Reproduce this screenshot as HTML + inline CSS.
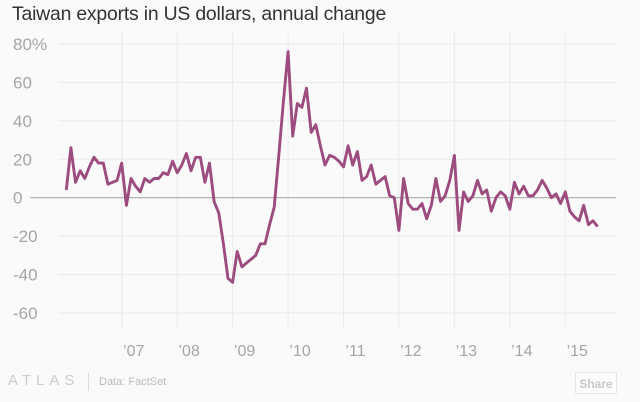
<!DOCTYPE html>
<html><head><meta charset="utf-8"><style>
html,body{margin:0;padding:0;background:#fbfafb;}
body{width:640px;height:402px;position:relative;overflow:hidden;font-family:"Liberation Sans",sans-serif;}
#title{position:absolute;left:12px;top:3px;font-size:19.4px;color:#333;letter-spacing:-0.2px;white-space:nowrap;}
#chart{position:absolute;left:0;top:0;}
#footer-logo{position:absolute;left:8px;top:372px;font-size:15px;color:#ccc;letter-spacing:5px;}
#footer-sep{position:absolute;left:88px;top:373px;width:1px;height:18px;background:#ddd;}
#source{position:absolute;left:99px;top:376px;font-size:11px;color:#bbb;}
#share{position:absolute;left:575px;top:372px;width:42px;height:22px;border:1px solid #e4e4e4;border-radius:2px;font-size:12px;color:#c8c8c8;text-align:center;line-height:22px;box-sizing:border-box;font-weight:bold;background:#fcfcfc;}
</style></head><body>
<div id="title">Taiwan exports in US dollars, annual change</div>
<svg id="chart" width="640" height="402"></svg>
<div id="footer-logo">ATLAS</div>
<div id="footer-sep"></div>
<div id="source">Data: FactSet</div>
<div id="share">Share</div>
<script>
const values2006 = [4,26,8,14,10,16,21,18,18,7,8,9];
const values2007 = [18,-4,10,6,3,10,8,10,10,13,12,19];
const values2008 = [13,17,23,14,21,21,8,18,-2,-8,-24,-42];
const values2009 = [-44,-28,-36,-34,-32,-30,-24,-24,-14,-5,22,50];
const values2010 = [76,32,49,47,57,34,38,27,17,22,21,19];
const values2011 = [16,27,17,24,9,11,17,7,9,11,1,0];
const values2012 = [-17,10,-3,-6,-6,-3,-11,-4,10,-2,1,9];
const values2013 = [22,-17,3,-2,1,9,2,4,-7,0,3,1];
const values2014 = [-6,8,2,6,1,1,4,9,5,0,2,-3];
const values2015 = [3,-7,-10,-12,-4,-14,-12,-15];
const yTicks = [80,60,40,20,0,-20,-40,-60];
const yTickLabels = ["80%","60","40","20","0","-20","-40","-60"];
const xTickLabels = ["’07","’08","’09","’10","’11","’12","’13","’14","’15"];
const xTickMonths = [12,24,36,48,60,72,84,96,108];

const series = [].concat(values2006,values2007,values2008,values2009,values2010,values2011,values2012,values2013,values2014,values2015);
const NS="http://www.w3.org/2000/svg";
const svg=document.getElementById('chart');
const x = i => 66.3 + i*4.62;
const y = v => 197.7 - v*1.922;
function mk(tag,attrs){const e=document.createElementNS(NS,tag);for(const k in attrs)e.setAttribute(k,attrs[k]);svg.appendChild(e);return e;}

yTicks.forEach((t,i)=>{
  if(t!==0){
    const g=mk('line',{x1:58,x2:616,y1:y(t),y2:y(t),stroke:'#ebe9eb','stroke-width':1});
    
    
  }
  const tx=mk('text',{x:13,y:y(t)+6,'font-size':17,fill:'#a5a5a5','font-family':'Liberation Sans, sans-serif'});
  tx.textContent=yTickLabels[i];
  
  
});
xTickMonths.forEach((m,i)=>{
  const g=mk('line',{x1:x(m),x2:x(m),y1:33,y2:328,stroke:'#ebe9eb','stroke-width':1});
  
  
  const tx=mk('text',{x:x(m)+12,y:356,'font-size':16,fill:'#a5a5a5','text-anchor':'middle','font-family':'Liberation Sans, sans-serif'});
  tx.textContent=xTickLabels[i];
  
  
});
const zl=mk('line',{x1:30,x2:616,y1:y(0),y2:y(0),stroke:'#aaa','stroke-width':1.2});


const d=series.map((v,i)=>(i?'L':'M')+x(i).toFixed(1)+','+y(v).toFixed(1)).join('');
const p=mk('path',{d:d,fill:'none',stroke:'#9c4c7f','stroke-width':2.9,'stroke-linejoin':'round'});


</script>
</body></html>
